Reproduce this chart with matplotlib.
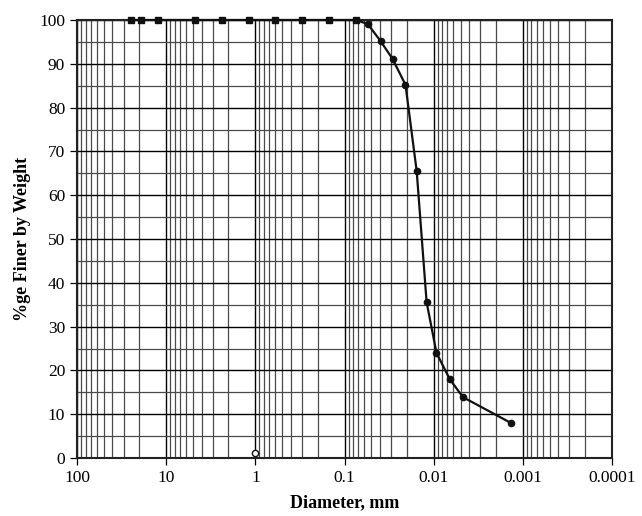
"""Grain size distribution curve."""

import numpy as np
import matplotlib.pyplot as plt
from matplotlib.ticker import FixedLocator, LogLocator, NullFormatter, MultipleLocator

# sieve analysis (mm, % finer)
sieve_d = [25, 19, 12.5, 4.75, 2.36, 1.18, 0.6, 0.3, 0.15, 0.075]
sieve_p = [100, 100, 100, 100, 100, 100, 100, 100, 100, 100]

# hydrometer analysis (mm, % finer)
hydro_d = [0.055, 0.0394, 0.0289, 0.0207, 0.0155, 0.012, 0.0093, 0.0066, 0.0047, 0.00136]
hydro_p = [99.1, 95.2, 91.1, 85.2, 65.5, 35.6, 24.0, 18.0, 13.9, 8.0]

# stray point
odd_d = [1.0]
odd_p = [1.1]

x_ticks = [100, 10, 1, 0.1, 0.01, 0.001, 0.0001]
x_labels = ['100', '10', '1', '0.1', '0.01', '0.001', '0.0001']

plt.rcParams['font.family'] = ['Liberation Serif', 'DejaVu Serif']

fig = plt.figure(figsize=(6.42, 5.16), dpi=100)
ax = fig.add_axes([77 / 642, 1 - 458 / 516, 535 / 642, 438 / 516])

ax.set_xscale('log')
ax.set_xlim(100, 0.0001)
ax.set_ylim(0, 100)

ax.xaxis.set_major_locator(FixedLocator(x_ticks))
ax.set_xticklabels(x_labels)
ax.xaxis.set_minor_locator(LogLocator(base=10, subs=np.arange(2, 10)))
ax.xaxis.set_minor_formatter(NullFormatter())
ax.yaxis.set_major_locator(MultipleLocator(10))
ax.yaxis.set_minor_locator(MultipleLocator(5))

ax.grid(which='major', color='black', linewidth=1.0)
ax.grid(which='minor', color='#4a4a4a', linewidth=0.9)
ax.set_axisbelow(True)

ax.tick_params(which='major', direction='out', length=5, width=0.9, labelsize=12.5)
ax.tick_params(which='minor', length=0)
for s in ax.spines.values():
    s.set_linewidth(1.5)
    s.set_color('#222222')

all_d = sieve_d + hydro_d
all_p = sieve_p + hydro_p
ax.plot(all_d, all_p, color='#111111', linewidth=1.6, zorder=3, clip_on=False)
ax.plot(sieve_d, sieve_p, 's', color='#111111', markersize=4.5, zorder=4, clip_on=False)
ax.plot(hydro_d, hydro_p, 'o', color='#111111', markersize=4.5, zorder=4, clip_on=False)
ax.plot(odd_d, odd_p, 'o', markerfacecolor='white', markeredgecolor='#111111',
        markersize=4.5, markeredgewidth=1, zorder=4, clip_on=False)

ax.set_xlabel('Diameter, mm', fontsize=13, fontweight='bold', labelpad=6)
ax.set_ylabel('%ge Finer by Weight', fontsize=13, fontweight='bold', labelpad=6)

fig.savefig('out.png', dpi=100)
